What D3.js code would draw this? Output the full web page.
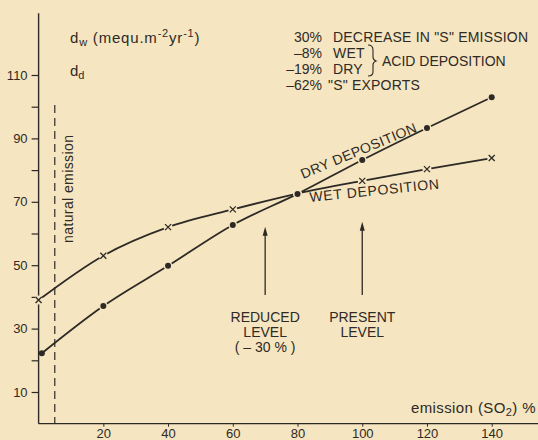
<!DOCTYPE html>
<html>
<head>
<meta charset="utf-8">
<script src="https://cdn.jsdelivr.net/npm/d3@7"></script>
<style>
  body { margin: 0; background: #f5e5c0; }
  svg { display: block; }
  text { font-family: "Liberation Sans", Arial, sans-serif; fill: #2f2a26; }
</style>
</head>
<body>
<div id="chart"></div>
<script>
// data
var emission = [0, 20, 40, 60, 80, 100, 120, 140];
var wetValues = [39, 53, 62, 67.6, 72.6, 76.6, 80.3, 83.8];
var dryEmission = [1, 20, 40, 60, 80, 100, 120, 140];
var dryValues = [22.2, 37.1, 49.8, 62.7, 72.5, 83.2, 93.3, 103];
var yTicks = [10, 20, 30, 40, 50, 60, 70, 80, 90, 100, 110];
var yLabels = [10, 30, 50, 70, 90, 110];
var xTicks = [20, 40, 60, 80, 100, 120, 140];
var naturalEmission = 5;
var arrows = [
    { x: 70, top: 62.1, lines: ["REDUCED", "LEVEL", "( \u2013 30 % )"] },
    { x: 100, top: 63.7, lines: ["PRESENT", "LEVEL"] }
];
var notes = [
    ["30%", "DECREASE IN \"S\" EMISSION"],
    ["\u20138%", "WET"],
    ["\u201319%", "DRY"],
    ["\u201362%", "\"S\" EXPORTS"]
];

var width = 538, height = 440;
var ink = "#2d2925";
var paper = "#f5e5c0";

var svg = d3.select("#chart")
    .append("svg")
    .attr("width", width)
    .attr("height", height);

svg.append("rect").attr("width", width).attr("height", height).attr("fill", paper);

var x = d3.scaleLinear().domain([0, 140]).range([38.6, 491.7]);
var y = d3.scaleLinear().domain([0, 110]).range([423.7, 75]);

// axes
svg.append("line")
    .attr("x1", x(0)).attr("x2", x(0))
    .attr("y1", y(129.5)).attr("y2", y(0))
    .attr("stroke", ink).attr("stroke-width", 1.4);
svg.append("line")
    .attr("x1", x(0)).attr("x2", width)
    .attr("y1", y(0)).attr("y2", y(0))
    .attr("stroke", ink).attr("stroke-width", 1.3);

var yAxis = svg.append("g")
    .attr("transform", "translate(" + x(0) + ",0)")
    .call(d3.axisLeft(y).tickValues(yTicks).tickSize(7).tickPadding(4)
        .tickFormat(function(d) { return yLabels.indexOf(d) >= 0 ? d : ""; }));
yAxis.select(".domain").remove();
yAxis.selectAll("line").attr("stroke", ink).attr("stroke-width", 1.2);
yAxis.selectAll("text").style("font-size", "13px").style("font-family", null).attr("fill", null);

var xAxis = svg.append("g")
    .attr("transform", "translate(0," + y(0) + ")")
    .call(d3.axisBottom(x).tickValues(xTicks).tickSize(3).tickPadding(2));
xAxis.select(".domain").remove();
xAxis.selectAll("line").attr("stroke", ink).attr("stroke-width", 1);
xAxis.selectAll("text").style("font-size", "13px").style("font-family", null).attr("fill", null);

// natural emission line
svg.append("line")
    .attr("x1", x(naturalEmission)).attr("x2", x(naturalEmission))
    .attr("y1", y(100.5)).attr("y2", y(0))
    .attr("stroke", ink).attr("stroke-width", 1.2)
    .attr("stroke-dasharray", "8,5");
svg.append("text")
    .attr("transform", "translate(73," + 189 + ") rotate(-90)")
    .attr("text-anchor", "middle")
    .attr("textLength", 108).attr("lengthAdjust", "spacing")
    .style("font-size", "14px")
    .text("natural emission");

// series
var wet = emission.map(function(d, i) { return { x: d, y: wetValues[i] }; });
var dry = dryEmission.map(function(d, i) { return { x: d, y: dryValues[i] }; });

var line = d3.line()
    .x(function(d) { return x(d.x); })
    .y(function(d) { return y(d.y); })
    .curve(d3.curveMonotoneX);

[wet, dry].forEach(function(s) {
    svg.append("path")
        .attr("d", line(s))
        .attr("fill", "none")
        .attr("stroke", ink)
        .attr("stroke-width", 1.8);
});

// small gaps around markers like the hand drawing
svg.append("g").selectAll("circle")
    .data(wet.concat(dry.slice(1)))
    .enter()
    .append("circle")
    .attr("cx", function(d) { return x(d.x); })
    .attr("cy", function(d) { return y(d.y); })
    .attr("r", 4.5)
    .attr("fill", paper);

svg.append("g").selectAll("circle")
    .data(dry)
    .enter()
    .append("circle")
    .attr("cx", function(d) { return x(d.x); })
    .attr("cy", function(d) { return y(d.y); })
    .attr("r", 3)
    .attr("fill", ink);

svg.append("g").selectAll("path")
    .data(wet.filter(function(d) { return d.x != 80; }))
    .enter()
    .append("path")
    .attr("d", function(d) {
        var cx = x(d.x), cy = y(d.y), s = 3;
        return "M" + (cx - s) + "," + (cy - s) + "L" + (cx + s) + "," + (cy + s) +
            "M" + (cx - s) + "," + (cy + s) + "L" + (cx + s) + "," + (cy - s);
    })
    .attr("stroke", ink)
    .attr("stroke-width", 1.3);

// series labels
svg.append("text")
    .attr("transform", "translate(303,179) rotate(-22.5)")
    .attr("textLength", 124).attr("lengthAdjust", "spacing")
    .style("font-size", "14px")
    .text("DRY DEPOSITION");
svg.append("text")
    .attr("transform", "translate(310,202) rotate(-5.9)")
    .attr("textLength", 130).attr("lengthAdjust", "spacing")
    .style("font-size", "14px")
    .text("WET DEPOSITION");

// arrows and level labels
var arr = svg.append("g").selectAll("g")
    .data(arrows)
    .enter()
    .append("g");
arr.append("line")
    .attr("x1", function(d) { return x(d.x); })
    .attr("x2", function(d) { return x(d.x); })
    .attr("y1", y(40.6))
    .attr("y2", function(d) { return y(d.top) + 4; })
    .attr("stroke", ink).attr("stroke-width", 1.3);
arr.append("path")
    .attr("d", function(d) {
        var cx = x(d.x), ty = y(d.top);
        return "M" + cx + "," + ty + "L" + (cx - 2.5) + "," + (ty + 9) + "L" + (cx + 2.5) + "," + (ty + 9) + "Z";
    })
    .attr("fill", ink);
arr.each(function(d) {
    var g = d3.select(this);
    d.lines.forEach(function(t, i) {
        g.append("text")
            .attr("x", x(d.x))
            .attr("y", 322 + i * 15)
            .attr("text-anchor", "middle")
            .style("font-size", "14px")
            .text(t);
    });
});

// notes top right
var nt = svg.append("g").selectAll("g")
    .data(notes)
    .enter()
    .append("g")
    .attr("transform", function(d, i) { return "translate(0," + [41.7, 57.5, 74, 90][i] + ")"; });
nt.append("text")
    .attr("x", 322).attr("text-anchor", "end")
    .style("font-size", "14px")
    .text(function(d) { return d[0]; });
nt.append("text")
    .attr("x", function(d, i) { return i == 3 ? 328 : 333; })
    .style("font-size", "14px")
    .style("letter-spacing", "0.2px")
    .text(function(d) { return d[1]; });

svg.append("path")
    .attr("d", "M368,45 Q373,45 373,50 L373,57 Q373,60 376,61 Q373,62 373,65 L373,72 Q373,76 368,76")
    .attr("fill", "none").attr("stroke", ink).attr("stroke-width", 1.1);
svg.append("text")
    .attr("x", 382).attr("y", 66)
    .style("font-size", "14px")
    .text("ACID DEPOSITION");

// unit labels
var dw = svg.append("text").attr("x", 70).attr("y", 43)
    .style("font-size", "15px").style("letter-spacing", "0.8px");
dw.append("tspan").text("d");
dw.append("tspan").attr("dy", 3).style("font-size", "11px").text("w");
dw.append("tspan").attr("dy", -3).text(" (mequ.m");
dw.append("tspan").attr("dy", -6).style("font-size", "11px").text("-2");
dw.append("tspan").attr("dy", 6).text("yr");
dw.append("tspan").attr("dy", -6).style("font-size", "11px").text("-1");
dw.append("tspan").attr("dy", 6).text(")");

var dd = svg.append("text").attr("x", 70).attr("y", 76).style("font-size", "15px");
dd.append("tspan").text("d");
dd.append("tspan").attr("dy", 3).style("font-size", "11px").text("d");

var xl = svg.append("text").attr("x", 536).attr("y", 413).attr("text-anchor", "end")
    .style("font-size", "15px").style("letter-spacing", "0.4px");
xl.append("tspan").text("emission  (SO");
xl.append("tspan").attr("dy", 3).style("font-size", "11px").text("2");
xl.append("tspan").attr("dy", -3).text(") %");
</script>
</body>
</html>
